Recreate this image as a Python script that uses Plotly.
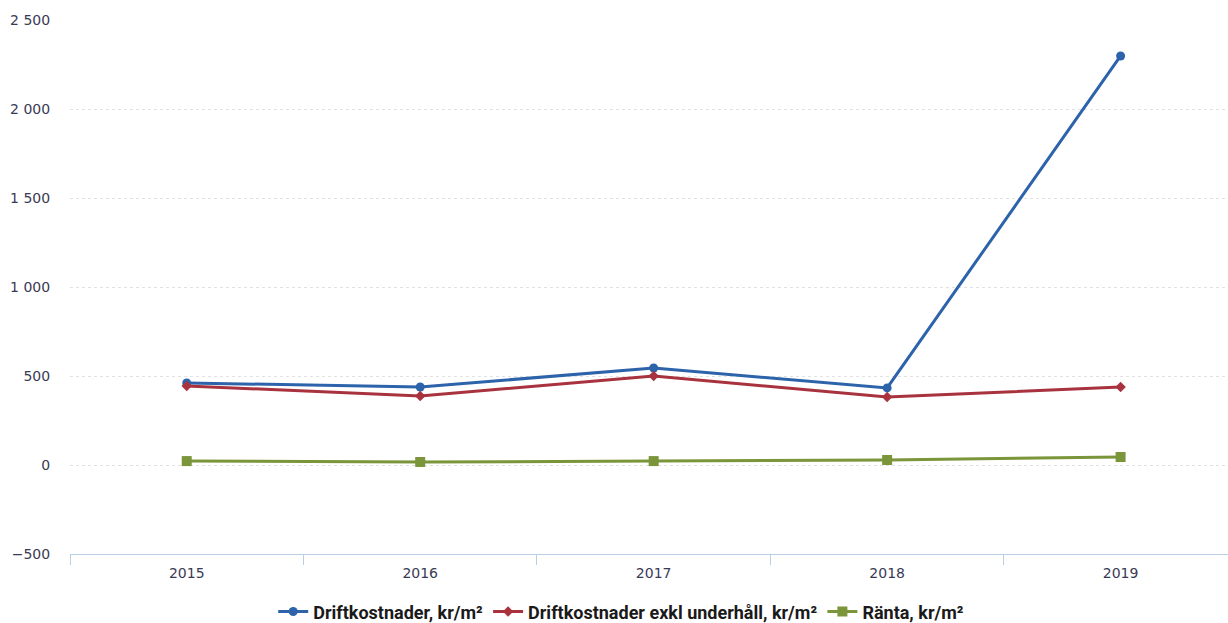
import plotly.graph_objects as go

years = ["2015", "2016", "2017", "2018", "2019"]
drift = [461, 438, 545, 433, 2298]
drift_exkl = [444, 388, 500, 382, 438]
ranta = [22, 17, 22, 28, 45]
y_ticks = [-500, 0, 500, 1000, 1500, 2000, 2500]

names = ["Driftkostnader, kr/m²", "Driftkostnader exkl underhåll, kr/m²", "Ränta, kr/m²"]
colors = ["#2c63aa", "#a8323e", "#7a953a"]
symbols = ["circle", "diamond", "square"]
sizes = [9, 8, 10]

fig = go.Figure()
for name, vals, c, s, sz in zip(names, [drift, drift_exkl, ranta], colors, symbols, sizes):
    fig.add_trace(go.Scatter(
        x=years, y=vals, name=name, mode="lines+markers",
        line=dict(color=c, width=3),
        marker=dict(symbol=s, size=sz, color=c),
    ))

fig.update_layout(
    width=1228, height=623,
    margin=dict(l=70, r=0, t=20, b=69),
    paper_bgcolor="white", plot_bgcolor="white",
    separators=", ",
    showlegend=True,
    legend=dict(orientation="h", x=0.476, xanchor="center",
                yref="container", y=0.018, yanchor="middle",
                font=dict(family="Roboto", size=18, color="#1a1a1a", weight="bold"),
                itemwidth=30, tracegroupgap=0),
    font=dict(family="DejaVu Sans", size=14, color="#3a3a55"),
)
fig.update_xaxes(
    type="category", range=[-0.5, 4.46],
    showgrid=False, zeroline=False,
    showline=True, linecolor="#b8cfe6", linewidth=1,
    ticks="outside", tickson="boundaries", ticklen=10, tickcolor="#b8cfe6",
    ticklabelstandoff=6,
    tickfont=dict(family="DejaVu Sans", size=14, color="#3a3a55"),
)
fig.update_yaxes(
    range=[-500, 2500], tickvals=y_ticks, tickformat=",d",
    showgrid=True, gridcolor="#e2e2e2", griddash="dot", gridwidth=1,
    zeroline=False, showline=False,
    ticks="outside", ticklen=16, tickcolor="rgba(0,0,0,0)",
    tickfont=dict(family="DejaVu Sans", size=14, color="#3a3a55"),
)

fig.write_html("out.html")
